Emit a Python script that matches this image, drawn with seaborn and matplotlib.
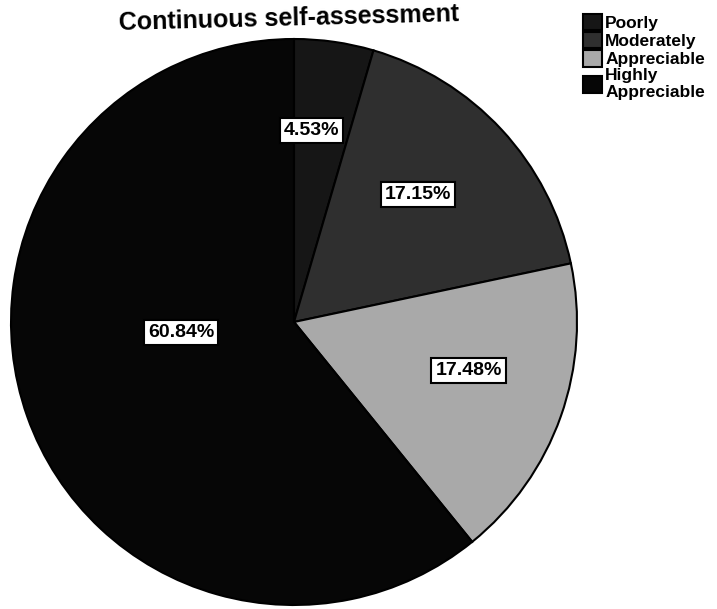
import numpy as np
import matplotlib
matplotlib.use('Agg')
import matplotlib.pyplot as plt
import seaborn as sns

# Data
categories = ['Poorly', 'Moderately', 'Appreciable', 'Highly\nAppreciable']
shares = [4.53, 17.15, 17.48, 60.84]
slice_colors = ['#161616', '#2f2f2f', '#a9a9a9', '#060606']
# label placement (fraction of radius, angle nudge in degrees)
label_dist = [0.68, 0.63, 0.64, 0.40]
label_turn = [3, 3, 4, -14]

sns.set_style('white')
plt.rcParams['font.family'] = ['Liberation Sans', 'DejaVu Sans']
plt.rcParams['text.color'] = 'black'

W, H = 717, 609
fig = plt.figure(figsize=(W / 100, H / 100), dpi=100)

# pie centre ~ (294, 322) px, radius ~ 283 px
cx, cy, r = 294, 322, 283
ax = fig.add_axes([(cx - r) / W, (H - cy - r) / H, 2 * r / W, 2 * r / H])
wedges, _ = ax.pie(shares, colors=slice_colors, startangle=90, counterclock=False,
                   wedgeprops=dict(edgecolor='black', linewidth=1.5))
ax.set_xlim(-1, 1)
ax.set_ylim(-1, 1)

# percentage labels in white boxes
for w, val, d, t in zip(wedges, shares, label_dist, label_turn):
    ang = np.deg2rad((w.theta1 + w.theta2) / 2 + t)
    ax.text(d * np.cos(ang), d * np.sin(ang), f'{val:.2f}%', ha='center', va='center',
            fontsize=14, fontweight='bold', color='black',
            bbox=dict(boxstyle='square,pad=0.2', facecolor='white', edgecolor='black', linewidth=1.5))

leg = ax.legend(wedges, categories, loc='upper left', bbox_to_anchor=(574 / W, 1 - 5 / H),
                bbox_transform=fig.transFigure, frameon=False,
                prop=dict(weight='bold', size=12.5), handlelength=1.1, handleheight=1.1,
                handletextpad=0.2, labelspacing=0.05, borderpad=0)
for t in leg.get_texts():
    t.set_color('black')

fig.text(289 / W, 1 - 26 / H, 'Continuous self-assessment', ha='center', va='baseline',
         rotation=1.5, rotation_mode='anchor', fontsize=18, fontweight='bold', color='black')

fig.savefig('out.png', dpi=100, facecolor='white')
